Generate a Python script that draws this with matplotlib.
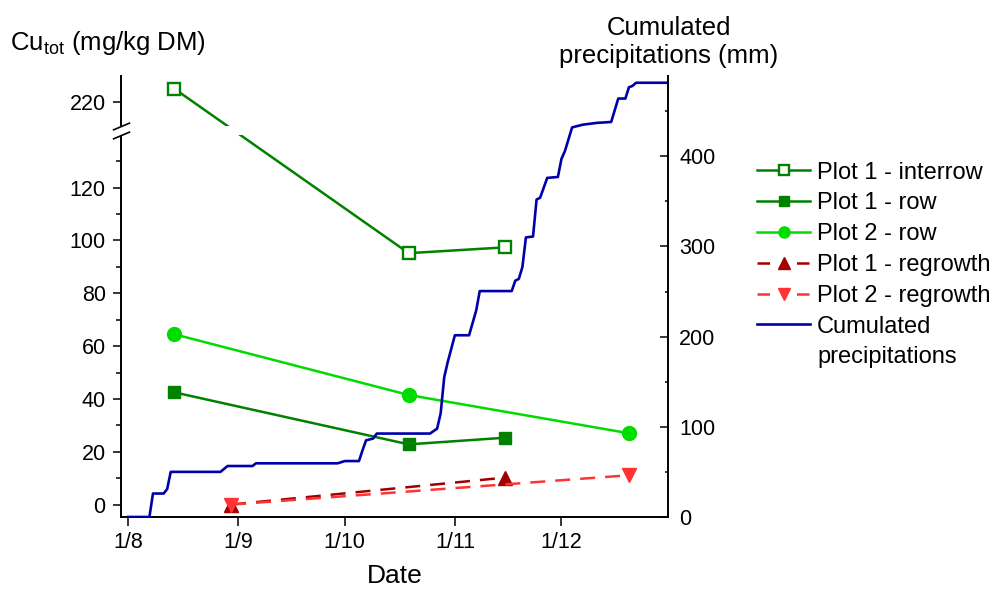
import numpy as np
import matplotlib
matplotlib.use('Agg')
import matplotlib.pyplot as plt
import matplotlib.dates as mdates
from matplotlib.ticker import FixedLocator, FuncFormatter
from matplotlib.legend_handler import HandlerLine2D
from matplotlib.path import Path
import datetime as dt

plt.rcParams['font.family'] = ['Liberation Sans', 'DejaVu Sans']
plt.rcParams['mathtext.fontset'] = 'custom'
plt.rcParams['mathtext.rm'] = 'Liberation Sans'
plt.rcParams['mathtext.it'] = 'Liberation Sans:italic'

# ---------------- data ----------------
interrow_dates = ['2019-08-14', '2019-10-19', '2019-11-15']
interrow_cu = [225.0, 95.2, 97.4]

row1_dates = ['2019-08-14', '2019-10-19', '2019-11-15']
row1_cu = [42.5, 22.8, 25.3]

row2_dates = ['2019-08-14', '2019-10-19', '2019-12-20']
row2_cu = [64.5, 41.5, 27.0]

regrowth1_dates = ['2019-08-30', '2019-11-15']
regrowth1_cu = [0.0, 10.2]

regrowth2_dates = ['2019-08-30', '2019-12-20']
regrowth2_cu = [0.0, 11.1]

precip_dates = ['2019-08-01', '2019-08-07', '2019-08-08', '2019-08-11', '2019-08-12',
                '2019-08-13', '2019-08-27', '2019-08-29', '2019-09-05', '2019-09-06',
                '2019-09-29', '2019-10-01', '2019-10-05', '2019-10-06', '2019-10-07',
                '2019-10-09', '2019-10-10', '2019-10-25', '2019-10-27', '2019-10-28',
                '2019-10-29', '2019-10-30', '2019-11-01', '2019-11-05', '2019-11-07',
                '2019-11-08', '2019-11-17', '2019-11-18', '2019-11-19', '2019-11-20',
                '2019-11-21', '2019-11-23', '2019-11-24', '2019-11-25', '2019-11-27',
                '2019-11-30', '2019-12-01', '2019-12-02', '2019-12-04', '2019-12-07',
                '2019-12-11', '2019-12-15', '2019-12-17', '2019-12-19', '2019-12-20',
                '2019-12-21', '2019-12-22', '2019-12-31']
precip_mm = [0, 0, 26, 26, 31,
             50, 50, 56.5, 56.5, 59.5,
             59.5, 62, 62, 74, 85,
             87, 92.5, 92.5, 98, 115,
             155, 172, 201.5, 201.5, 229,
             250.5, 250.5, 262, 264, 277,
             310, 311, 352, 354, 376,
             377, 397, 406, 432, 435,
             437, 438, 464, 464, 476.5,
             478, 481.5, 481.5]

left_major_ticks = [0, 20, 40, 60, 80, 100, 120, 220]
left_minor_ticks = [10, 30, 50, 70, 90, 110, 130]
right_major_ticks = [0, 100, 200, 300, 400]
right_minor_ticks = [50, 150, 250, 350, 450]

labels = ['Plot 1 - interrow', 'Plot 1 - row', 'Plot 2 - row',
          'Plot 1 - regrowth', 'Plot 2 - regrowth', 'Cumulated\nprecipitations']

# ---------------- broken-axis scale ----------------
LO, HI, GAP = 140.0, 211.0, 3.5


def fwd(y):
    y = np.asarray(y, dtype=float)
    return np.where(y <= LO, y,
                    np.where(y >= HI, y - (HI - LO) + GAP,
                             LO + (y - LO) * GAP / (HI - LO)))


def inv(t):
    t = np.asarray(t, dtype=float)
    return np.where(t <= LO, t,
                    np.where(t >= LO + GAP, t + (HI - LO) - GAP,
                             LO + (t - LO) * (HI - LO) / GAP))


def to_dates(lst):
    return [dt.datetime.strptime(s, '%Y-%m-%d') for s in lst]


DKGREEN = '#008200'
LTGREEN = '#00DC00'
DKRED = '#A00000'
RED = '#FF3333'
BLUE = '#0000AA'
LW = 1.8
DASH = (6, 4)

fig = plt.figure(figsize=(10, 5.96), dpi=100)
ax = fig.add_axes([0.121, 0.1326, 0.547, 0.7399])
ax2 = ax.twinx()

ax.set_yscale('function', functions=(fwd, inv))

l1, = ax.plot(to_dates(interrow_dates), interrow_cu, color=DKGREEN, lw=LW,
              marker='s', ms=8.3, mfc='white', mec=DKGREEN, mew=1.7)
l2, = ax.plot(to_dates(row1_dates), row1_cu, color=DKGREEN, lw=LW,
              marker='s', ms=9, mfc=DKGREEN, mec=DKGREEN)
l3, = ax.plot(to_dates(row2_dates), row2_cu, color=LTGREEN, lw=LW,
              marker='o', ms=10, mfc=LTGREEN, mec=LTGREEN)
l4, = ax.plot(to_dates(regrowth1_dates), regrowth1_cu, color=DKRED, lw=LW,
              dashes=DASH, marker='^', ms=10.5, mfc=DKRED, mec=DKRED)
l5, = ax.plot(to_dates(regrowth2_dates), regrowth2_cu, color=RED, lw=LW,
              dashes=DASH, marker='v', ms=10.5, mfc=RED, mec=RED)

l6, = ax2.plot(to_dates(precip_dates), precip_mm, color=BLUE, lw=1.9)

# axes limits
ax.set_xlim(dt.datetime(2019, 7, 30), dt.datetime(2019, 12, 31))
ax.set_ylim(-4.7, 229.8)
ax2.set_ylim(0, 489)

# ticks
ax.yaxis.set_major_locator(FixedLocator(left_major_ticks))
ax.yaxis.set_minor_locator(FixedLocator(left_minor_ticks))
ax.yaxis.set_major_formatter(FuncFormatter(lambda v, p: f'{v:g}'))
ax.yaxis.set_minor_formatter(FuncFormatter(lambda v, p: ''))
ax2.yaxis.set_major_locator(FixedLocator(right_major_ticks))
ax2.yaxis.set_minor_locator(FixedLocator(right_minor_ticks))

ax.xaxis.set_major_locator(mdates.MonthLocator(bymonthday=1))


def datefmt(x, pos):
    d = mdates.num2date(x)
    return f'{d.day}/{d.month}'


ax.xaxis.set_major_formatter(FuncFormatter(datefmt))

ax.tick_params(axis='y', which='major', direction='out', length=6, width=1.1,
               labelsize=15.5, pad=5)
ax.tick_params(axis='y', which='minor', direction='out', length=3.5, width=1.1)
ax.tick_params(axis='x', which='major', direction='out', length=6.5, width=1.1,
               labelsize=15.5, pad=4.5)
ax2.tick_params(axis='y', which='major', direction='in', length=5.5, width=1.1,
                labelsize=15.5, pad=8)
ax2.tick_params(axis='y', which='minor', direction='in', length=2.5, width=1.1)

for s in ['top', 'right']:
    ax.spines[s].set_visible(False)
for s in ['top', 'left', 'bottom']:
    ax2.spines[s].set_visible(False)
for sp in list(ax.spines.values()) + list(ax2.spines.values()):
    sp.set_linewidth(1.4)

# axis break
ax.axhspan(LO, HI, color='white', lw=0, zorder=2.4)
ax.plot([0, 0], [LO, HI], transform=ax.get_yaxis_transform(), color='white',
        lw=3, clip_on=False, zorder=2.6, solid_capstyle='butt')
slash = Path([(-1, -0.42), (1, 0.42)], [Path.MOVETO, Path.LINETO])
ax.plot([0, 0], [LO, HI], transform=ax.get_yaxis_transform(), ls='none',
        marker=slash, ms=12.5, mec='black', mew=1.2, clip_on=False, zorder=2.7)

# labels
ax.set_xlabel('Date', fontsize=19, labelpad=8)
fig.text(0.010, 0.916, r'Cu$_{\mathrm{tot}}$ (mg/kg DM)', fontsize=18.5,
         ha='left', va='baseline')
fig.text(0.669, 0.9413, 'Cumulated', fontsize=18.5, ha='center', va='baseline')
fig.text(0.669, 0.8943, 'precipitations (mm)', fontsize=18.5, ha='center',
         va='baseline')


class TopHandler(HandlerLine2D):
    def __init__(self, shift=13.2, **kw):
        super().__init__(**kw)
        self.shift = shift

    def create_artists(self, legend, orig_handle, xdescent, ydescent, width,
                       height, fontsize, trans):
        arts = super().create_artists(legend, orig_handle, xdescent, ydescent,
                                      width, height, fontsize, trans)
        for a in arts:
            a.set_ydata(np.asarray(a.get_ydata()) + self.shift)
        return arts


class DashHandler(HandlerLine2D):
    def create_artists(self, legend, orig_handle, xdescent, ydescent, width,
                       height, fontsize, trans):
        arts = super().create_artists(legend, orig_handle, xdescent, ydescent,
                                      width, height, fontsize, trans)
        arts[0].set_dashes((5.0, 10.8))
        return arts


leg = fig.legend([l1, l2, l3, l4, l5, l6], labels, loc='upper left',
                 bbox_to_anchor=(0.757, 0.729), frameon=False, fontsize=17,
                 handlelength=2.25, handletextpad=0.3, labelspacing=0.38,
                 markerscale=0.8, borderpad=0, borderaxespad=0,
                 handler_map={l6: TopHandler(), l4: DashHandler(),
                              l5: DashHandler()})
for t in leg.get_texts():
    t.set_linespacing(1.45)

fig.savefig('out.png', dpi=100)
